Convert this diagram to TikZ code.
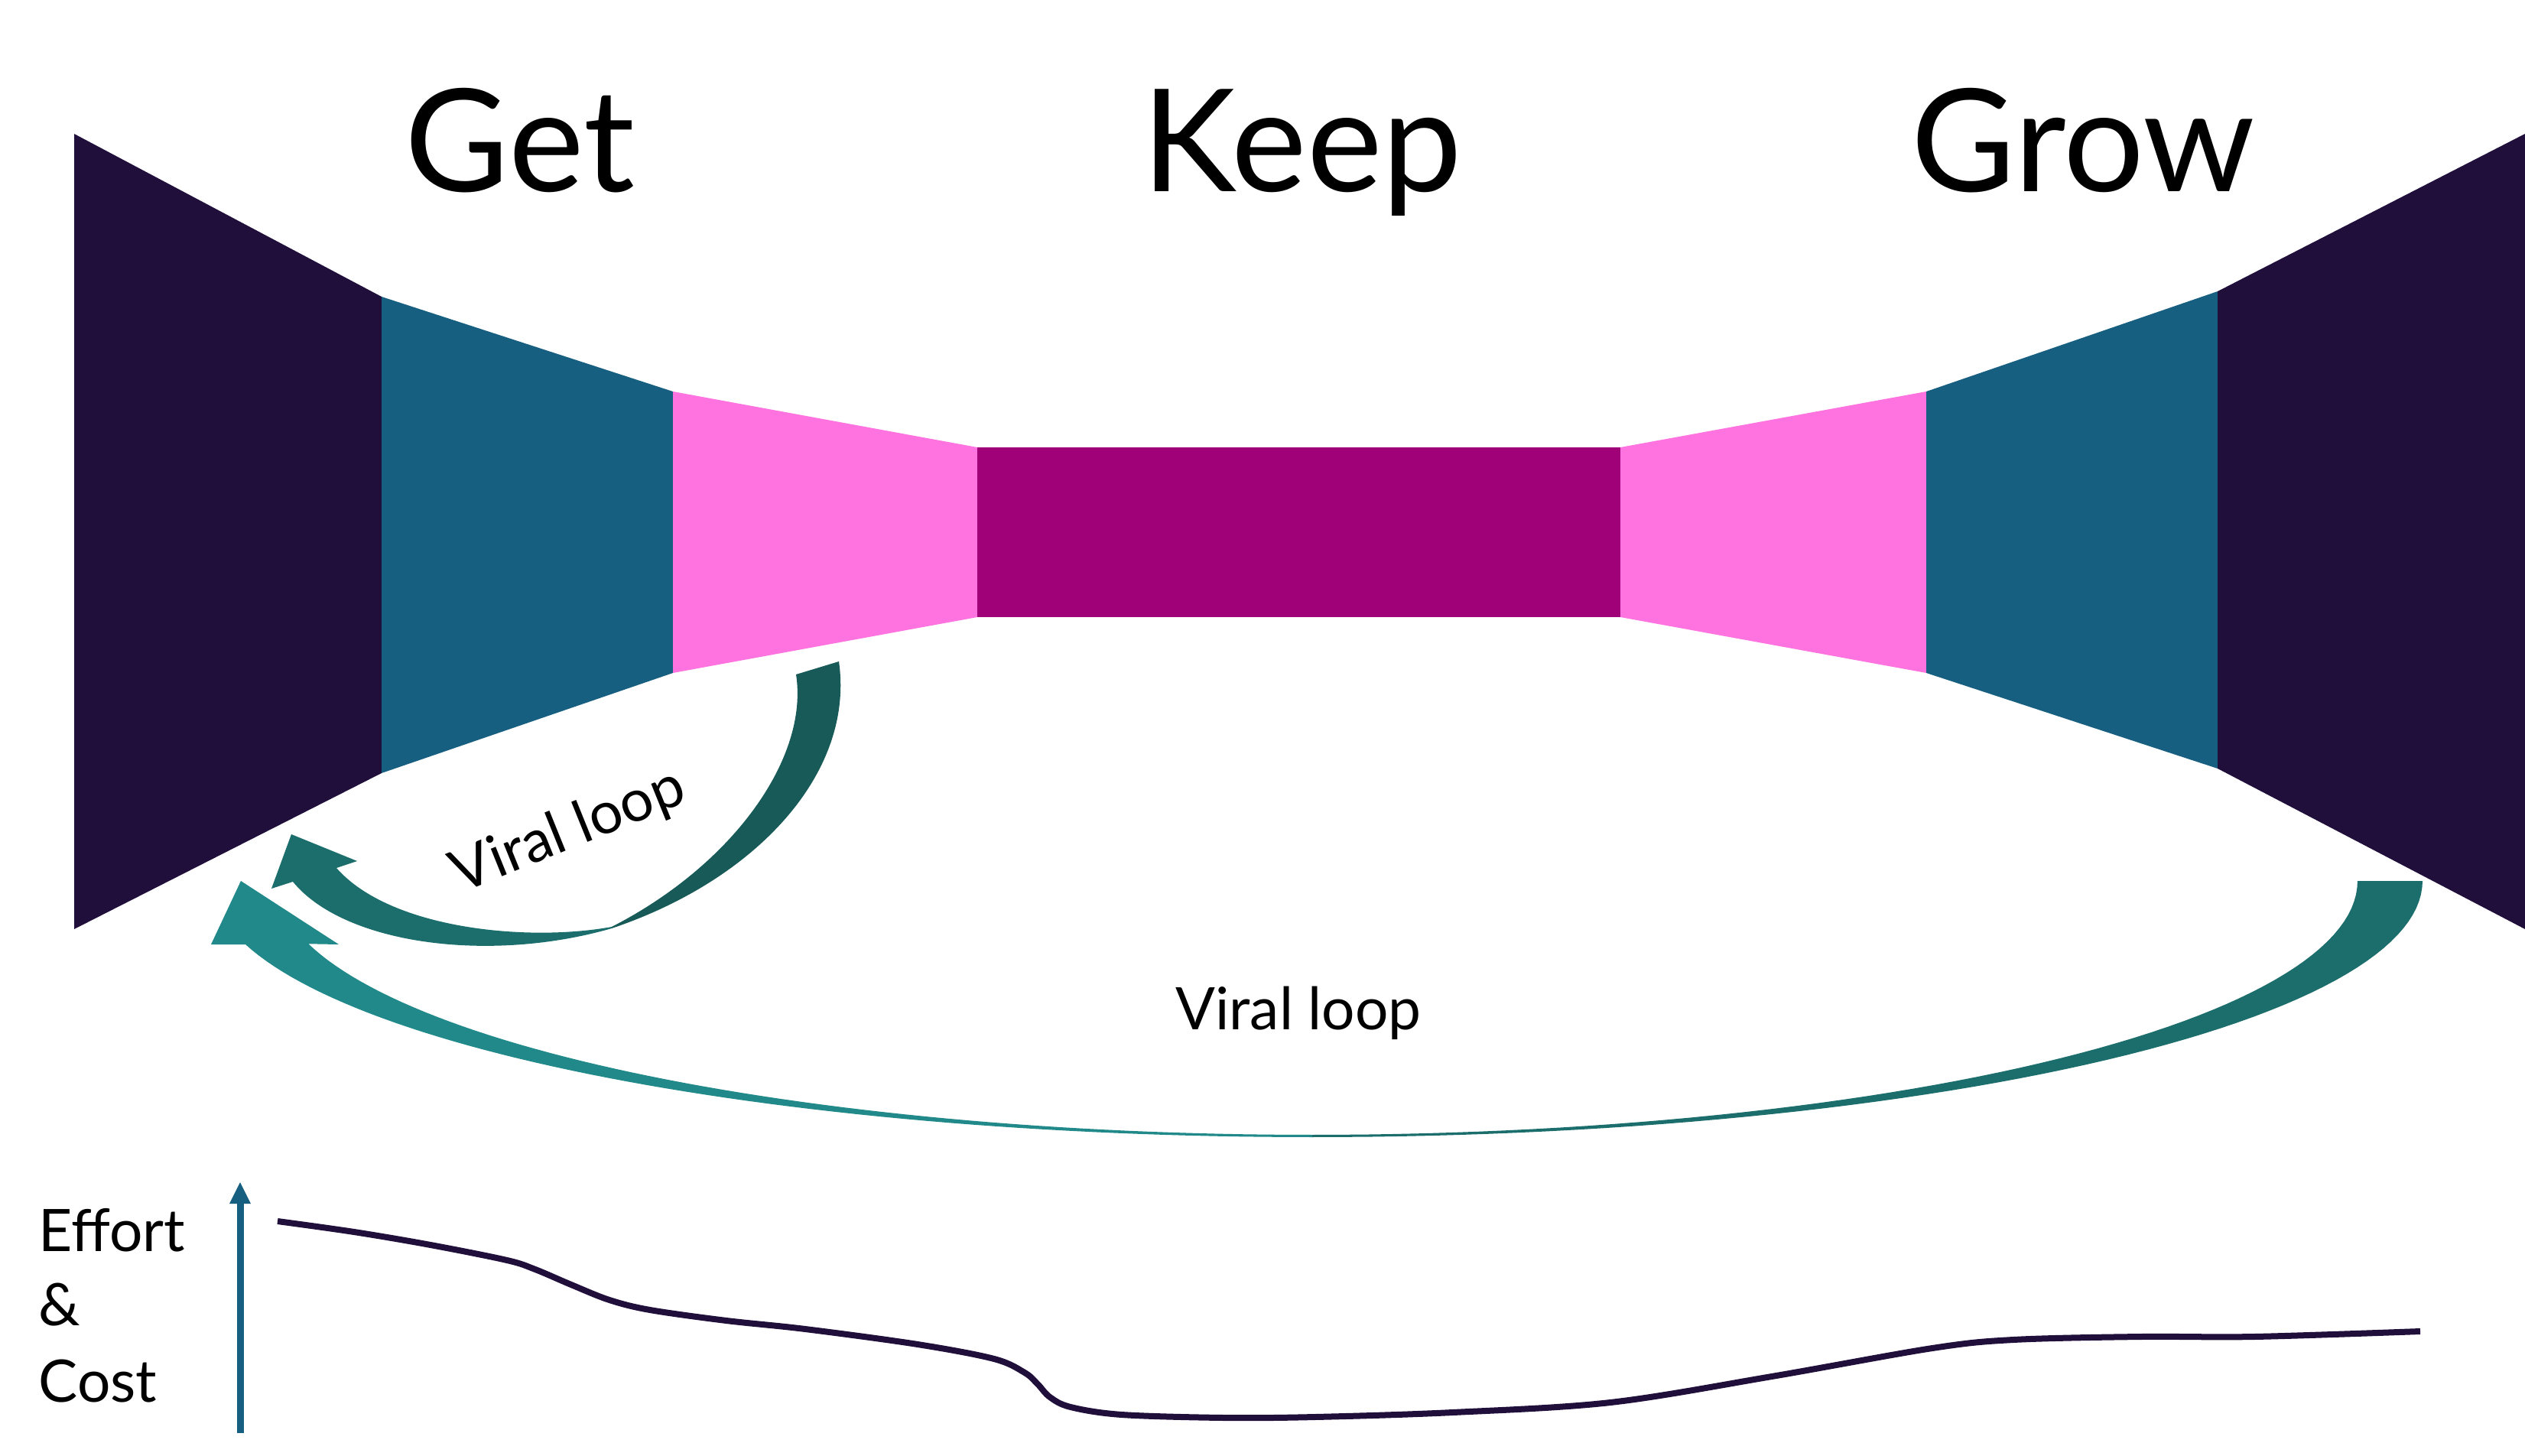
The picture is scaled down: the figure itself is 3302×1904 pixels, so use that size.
\documentclass[tikz,border=0pt]{standalone}
\usepackage{fontspec}
\setmainfont{Lato}
\definecolor{fdark}{HTML}{200F3B}
\definecolor{fblue}{HTML}{175F80}
\definecolor{fpink}{HTML}{FF73E0}
\definecolor{fmag}{HTML}{A00078}
\definecolor{tealA}{HTML}{21898A}
\definecolor{tealB}{HTML}{1B6E6C}
\definecolor{tealC}{HTML}{175A57}
\begin{document}
\begin{tikzpicture}[x=0.3pt,y=-0.3pt,
  titletext/.style={font=\fontsize{56}{67}\selectfont, inner sep=0pt, anchor=base},
  looptext/.style={font=\fontsize{23}{28}\selectfont, inner sep=0pt, anchor=base},
  axistext/.style={font=\fontsize{23}{28}\selectfont, inner sep=0pt, anchor=base west},
  effortline/.style={line width=2.4pt, fdark},
  axisline/.style={line width=2.7pt, fblue}]
\fill[white] (0,0) rectangle (3302,1904);
\useasboundingbox (0,0) rectangle (3302,1904);

% funnel
\fill[fdark] (97,175) -- (499,388) -- (499,1011) -- (97,1215) -- cycle;
\fill[fblue] (499,388) -- (880,512) -- (880,880) -- (499,1011) -- cycle;
\fill[fpink] (880,512) -- (1278,585) -- (1278,807) -- (880,880) -- cycle;
\fill[fmag] (1278,585) rectangle (2119,807);
\fill[fpink] (2119,585) -- (2519,512) -- (2519,880) -- (2119,807) -- cycle;
\fill[fblue] (2519,512) -- (2900,381) -- (2900,1005) -- (2519,880) -- cycle;
\fill[fdark] (2900,381) -- (3302,175) -- (3302,1215) -- (2900,1005) -- cycle;

% titles
\node[titletext] (get) at (680,251) {Get};
\node[titletext] (keep) at (1703,251) {Keep};
\node[titletext] (grow) at (2724,251) {Grow};

% small viral loop arrow: tail band
\fill[tealC] (1041,882) .. controls (1058,990) and (960,1130) .. (800,1212)
  -- (800,1214) .. controls (990,1150) and (1118,1010) .. (1097,865) -- cycle;
% small viral loop arrow: head band
\fill[tealB] (800,1212) .. controls (690,1232) and (510,1215) .. (440,1135)
  -- (467,1126) -- (381,1091) -- (355,1162) -- (383,1153)
  .. controls (450,1235) and (640,1260) .. (800,1214) -- cycle;

% big viral loop arrow: left half
\fill[tealA] plot[domain=90:165.65, samples=60, variable=\t] ({1716+1440*cos(\t)},{1152+335*sin(\t)})
  -- (276,1235) -- (315,1152) -- (443,1235)
  -- plot[domain=165.65:90, samples=60, variable=\t] ({1716+1355*cos(\t)},{1152+332*sin(\t)})
  -- cycle;
% big viral loop arrow: right half
\fill[tealB] plot[domain=0:90, samples=60, variable=\t] ({1716+1452*cos(\t)},{1152+335*sin(\t)})
  -- plot[domain=90:0, samples=60, variable=\t] ({1716+1367*cos(\t)},{1152+332*sin(\t)})
  -- cycle;

% labels
\node[looptext, rotate=22] (vlsmall) at (752,1108) {Viral loop};
\node[looptext] (vlbig) at (1698,1346) {Viral loop};

% effort axis
\node[axistext] (effort) at (50,1636) {Effort};
\node[axistext] (amp) at (50,1733) {\&};
\node[axistext] (cost) at (50,1833) {Cost};
\coordinate (axbot) at (314,1874);
\coordinate (axtop) at (314,1573);
\draw[axisline] (axbot) -- (axtop);
\fill[fblue] (300,1574) -- (314,1546) -- (328,1574) -- cycle;

% effort curve
\draw[effortline] plot[smooth, tension=0.55] coordinates {(363,1597) (463,1611) (563,1628) (663,1648) (700,1660) (747,1680) (797,1700) (850,1713) (950,1727) (1053,1738) (1200,1758) (1300,1777) (1340,1795) (1357,1810) (1373,1827) (1400,1840) (1467,1850) (1600,1854) (1720,1853) (1900,1847) (2106,1834) (2317,1800) (2527,1763) (2633,1752) (2800,1748) (2948,1748) (3165,1741)};
\end{tikzpicture}
\end{document}
